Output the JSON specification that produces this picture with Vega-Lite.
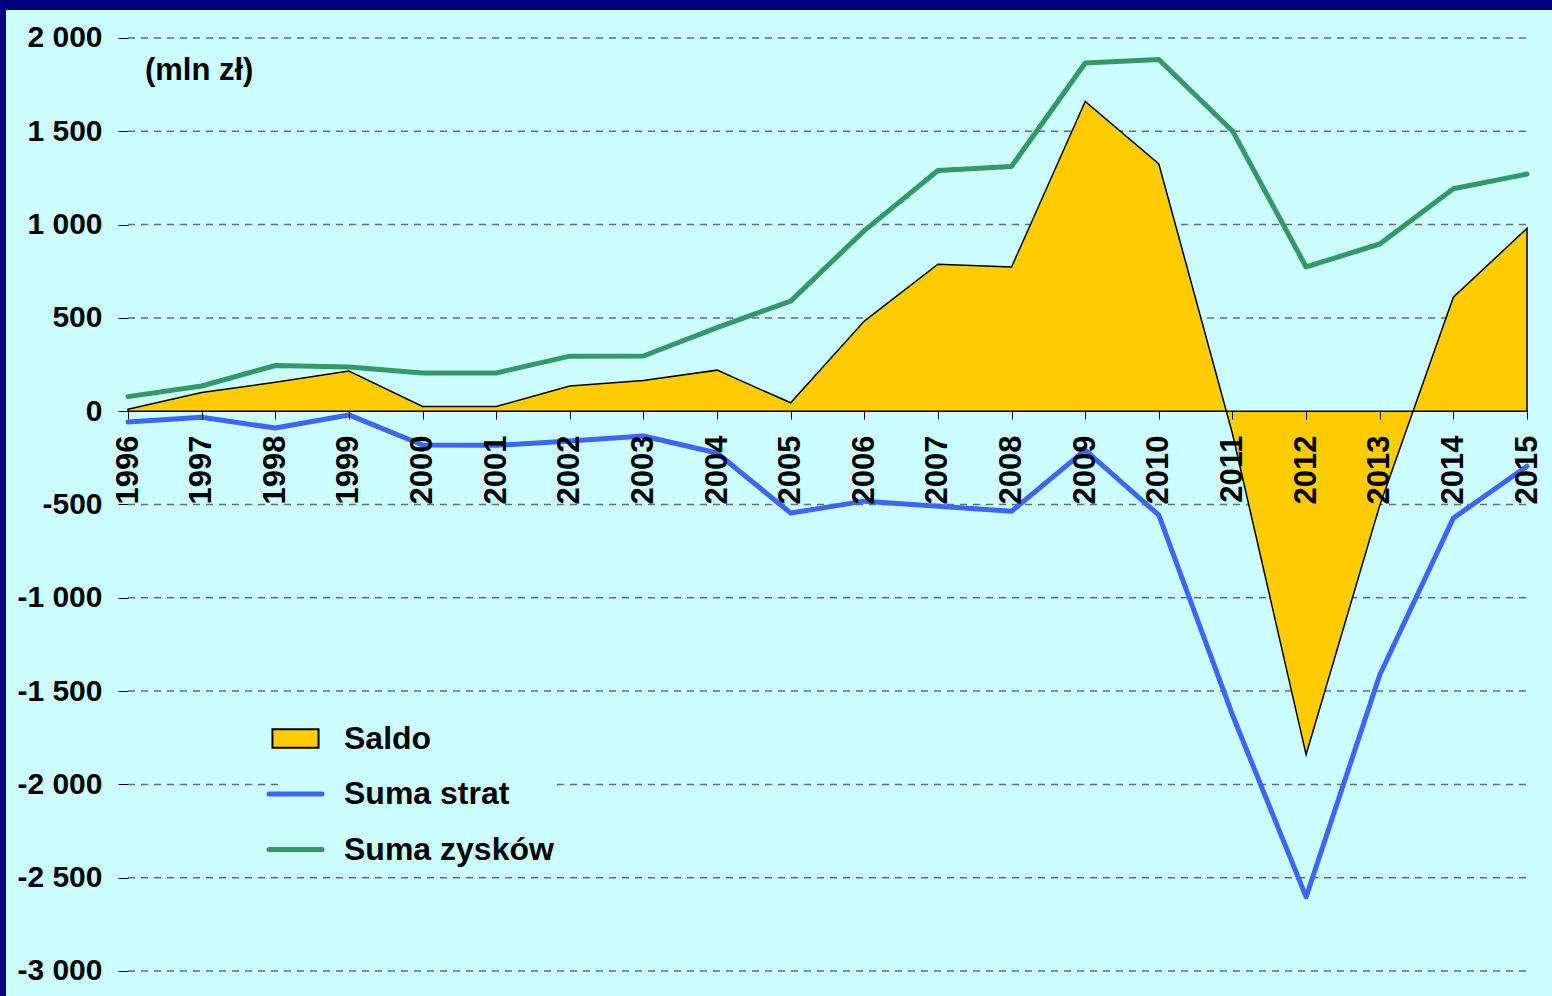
{
  "$schema": "https://vega.github.io/schema/vega-lite/v6.json",
  "width": 1546,
  "height": 986,
  "autosize": {"type": "none"},
  "padding": {"left": 6, "top": 10, "right": 0, "bottom": 0},
  "background": "#000080",
  "config": {"view": {"fill": "#CCFFFF", "stroke": null}, "font": "Liberation Sans"},
  "title": {
    "text": "Arcata Partners & Co",
    "anchor": "start",
    "dx": 1094,
    "offset": 7,
    "baseline": "alphabetic",
    "fontSize": 40,
    "fontWeight": "normal",
    "font": "Liberation Sans",
    "color": "#29A3E8"
  },
  "datasets": {
    "series": [
      {"year": 1996, "series": "Saldo", "value": 10},
      {"year": 1997, "series": "Saldo", "value": 100},
      {"year": 1998, "series": "Saldo", "value": 155},
      {"year": 1999, "series": "Saldo", "value": 215},
      {"year": 2000, "series": "Saldo", "value": 25},
      {"year": 2001, "series": "Saldo", "value": 25},
      {"year": 2002, "series": "Saldo", "value": 135},
      {"year": 2003, "series": "Saldo", "value": 165},
      {"year": 2004, "series": "Saldo", "value": 220},
      {"year": 2005, "series": "Saldo", "value": 45},
      {"year": 2006, "series": "Saldo", "value": 483},
      {"year": 2007, "series": "Saldo", "value": 788},
      {"year": 2008, "series": "Saldo", "value": 773},
      {"year": 2009, "series": "Saldo", "value": 1660},
      {"year": 2010, "series": "Saldo", "value": 1325},
      {"year": 2011, "series": "Saldo", "value": -121},
      {"year": 2012, "series": "Saldo", "value": -1840},
      {"year": 2013, "series": "Saldo", "value": -505},
      {"year": 2014, "series": "Saldo", "value": 611},
      {"year": 2015, "series": "Saldo", "value": 980},
      {"year": 1996, "series": "Suma strat", "value": -58},
      {"year": 1997, "series": "Suma strat", "value": -32},
      {"year": 1998, "series": "Suma strat", "value": -90},
      {"year": 1999, "series": "Suma strat", "value": -20},
      {"year": 2000, "series": "Suma strat", "value": -181},
      {"year": 2001, "series": "Suma strat", "value": -183},
      {"year": 2002, "series": "Suma strat", "value": -160},
      {"year": 2003, "series": "Suma strat", "value": -133},
      {"year": 2004, "series": "Suma strat", "value": -224},
      {"year": 2005, "series": "Suma strat", "value": -546},
      {"year": 2006, "series": "Suma strat", "value": -482},
      {"year": 2007, "series": "Suma strat", "value": -509},
      {"year": 2008, "series": "Suma strat", "value": -536},
      {"year": 2009, "series": "Suma strat", "value": -209},
      {"year": 2010, "series": "Suma strat", "value": -557},
      {"year": 2011, "series": "Suma strat", "value": -1628},
      {"year": 2012, "series": "Suma strat", "value": -2603},
      {"year": 2013, "series": "Suma strat", "value": -1414},
      {"year": 2014, "series": "Suma strat", "value": -573},
      {"year": 2015, "series": "Suma strat", "value": -295},
      {"year": 1996, "series": "Suma zysków", "value": 78},
      {"year": 1997, "series": "Suma zysków", "value": 135},
      {"year": 1998, "series": "Suma zysków", "value": 245},
      {"year": 1999, "series": "Suma zysków", "value": 237},
      {"year": 2000, "series": "Suma zysków", "value": 205},
      {"year": 2001, "series": "Suma zysków", "value": 205},
      {"year": 2002, "series": "Suma zysków", "value": 295},
      {"year": 2003, "series": "Suma zysków", "value": 296},
      {"year": 2004, "series": "Suma zysków", "value": 448},
      {"year": 2005, "series": "Suma zysków", "value": 590},
      {"year": 2006, "series": "Suma zysków", "value": 968},
      {"year": 2007, "series": "Suma zysków", "value": 1290},
      {"year": 2008, "series": "Suma zysków", "value": 1312},
      {"year": 2009, "series": "Suma zysków", "value": 1866},
      {"year": 2010, "series": "Suma zysków", "value": 1885},
      {"year": 2011, "series": "Suma zysków", "value": 1502},
      {"year": 2012, "series": "Suma zysków", "value": 773},
      {"year": 2013, "series": "Suma zysków", "value": 896},
      {"year": 2014, "series": "Suma zysków", "value": 1192},
      {"year": 2015, "series": "Suma zysków", "value": 1271}
    ],
    "grid": [
      {"value": 2000}, {"value": 1500}, {"value": 1000}, {"value": 500},
      {"value": -500}, {"value": -1000}, {"value": -1500}, {"value": -2000},
      {"value": -2500}, {"value": -3000}
    ],
    "note": [{"year": 1996.23, "value": 1823, "label": "(mln zł)"}]
  },
  "layer": [
    {
      "data": {"name": "grid"},
      "mark": {"type": "rule", "color": "#5E7272", "strokeWidth": 1.5, "strokeDash": [7, 6]},
      "encoding": {
        "y": {"field": "value", "type": "quantitative", "title": null, "scale": {"domain": [-3133.98, 2150.05], "nice": false, "zero": false}},
        "x": {"datum": 1996, "type": "quantitative", "title": null, "scale": {"domain": [1994.3431, 2015.3395], "nice": false, "zero": false}},
        "x2": {"datum": 2015}
      }
    },
    {
      "data": {"name": "series"},
      "transform": [{"filter": "datum.series === 'Saldo'"}],
      "mark": {"type": "area", "fill": "#FFCC00", "stroke": "#000000", "strokeWidth": 1.5, "fillOpacity": 1},
      "encoding": {
        "x": {
          "field": "year", "type": "quantitative", "title": null,
          "scale": {"domain": [1994.3431, 2015.3395], "nice": false, "zero": false},
          "axis": {
            "title": null, "orient": "bottom", "offset": -585, "zindex": 1,
            "values": [1996, 1997, 1998, 1999, 2000, 2001, 2002, 2003, 2004, 2005, 2006, 2007, 2008, 2009, 2010, 2011, 2012, 2013, 2014, 2015],
            "format": "d", "domain": false, "grid": false,
            "ticks": true, "tickSize": 8, "tickColor": "#000000", "tickWidth": 1,
            "labelAngle": 270, "labelFontSize": 31, "labelFontWeight": "bold", "labelFont": "Liberation Sans",
            "labelColor": "#000000", "labelPadding": 16, "labelOverlap": false, "labelFlush": false
          }
        },
        "y": {
          "field": "value", "type": "quantitative", "title": null,
          "scale": {"domain": [-3133.98, 2150.05], "nice": false, "zero": false},
          "axis": {
            "title": null, "orient": "left", "offset": -122,
            "values": [2000, 1500, 1000, 500, 0, -500, -1000, -1500, -2000, -2500, -3000],
            "labelExpr": "datum.value < 0 ? '-' + replace(format(-datum.value, ','), ',', ' ') : replace(format(datum.value, ','), ',', ' ')",
            "domain": false, "grid": false,
            "ticks": true, "tickSize": 10, "tickColor": "#000000", "tickWidth": 1,
            "labelFontSize": 30, "labelFontWeight": "bold", "labelFont": "Liberation Sans",
            "labelColor": "#000000", "labelPadding": 16, "labelOverlap": false, "labelFlush": false
          }
        }
      }
    },
    {
      "data": {"name": "series"},
      "transform": [{"filter": "datum.series !== 'Saldo'"}],
      "mark": {"type": "line", "strokeWidth": 5, "strokeJoin": "round", "strokeCap": "round"},
      "encoding": {
        "x": {"field": "year", "type": "quantitative", "title": null},
        "y": {"field": "value", "type": "quantitative", "title": null},
        "color": {
          "field": "series", "type": "nominal", "title": null,
          "scale": {"domain": ["Saldo", "Suma strat", "Suma zysków"], "range": ["#000000", "#3D66FF", "#339966"]},
          "legend": {
            "title": null, "orient": "none", "legendX": 273.5, "legendY": 712.5,
            "padding": 0, "offset": 0, "fillColor": "#CCFFFF", "strokeColor": null,
            "labelFontSize": 32, "labelFontWeight": "bold", "labelFont": "Liberation Sans", "labelColor": "#000000",
            "labelOffset": 32.5, "rowPadding": 23.5, "symbolSize": 2809, "labelLimit": 500,
            "values": ["Saldo", "Suma strat", "Suma zysków"],
            "encode": {
              "symbols": {
                "update": {
                  "shape": {"signal": "datum.value === 'Saldo' ? 'M-0.87,-0.35H0.87V0.35H-0.87Z' : 'M-1,0H1'"},
                  "size": {"value": 2809},
                  "fill": {"signal": "datum.value === 'Saldo' ? '#FFCC00' : 'transparent'"},
                  "stroke": {"signal": "datum.value === 'Saldo' ? '#000000' : (datum.value === 'Suma strat' ? '#3D66FF' : '#339966')"},
                  "strokeWidth": {"signal": "datum.value === 'Saldo' ? 2 : 5"},
                  "strokeCap": {"value": "round"},
                  "opacity": {"value": 1},
                  "fillOpacity": {"value": 1},
                  "strokeOpacity": {"value": 1}
                }
              }
            }
          }
        }
      }
    },
    {
      "mark": {"type": "rule", "color": "#000000", "strokeWidth": 1.5},
      "encoding": {
        "y": {"datum": 0, "type": "quantitative"},
        "x": {"datum": 1996, "type": "quantitative"},
        "x2": {"datum": 2015}
      }
    },
    {
      "mark": {"type": "rule", "color": "#000000", "strokeWidth": 1.2},
      "encoding": {
        "x": {"datum": 1996, "type": "quantitative"},
        "y": {"datum": -3000, "type": "quantitative"},
        "y2": {"datum": 2000}
      }
    },
    {
      "data": {"name": "note"},
      "mark": {"type": "text", "align": "left", "baseline": "middle", "fontSize": 31, "fontWeight": "bold", "font": "Liberation Sans", "color": "#000000"},
      "encoding": {
        "x": {"field": "year", "type": "quantitative", "title": null},
        "y": {"field": "value", "type": "quantitative", "title": null},
        "text": {"field": "label"}
      }
    }
  ]
}
